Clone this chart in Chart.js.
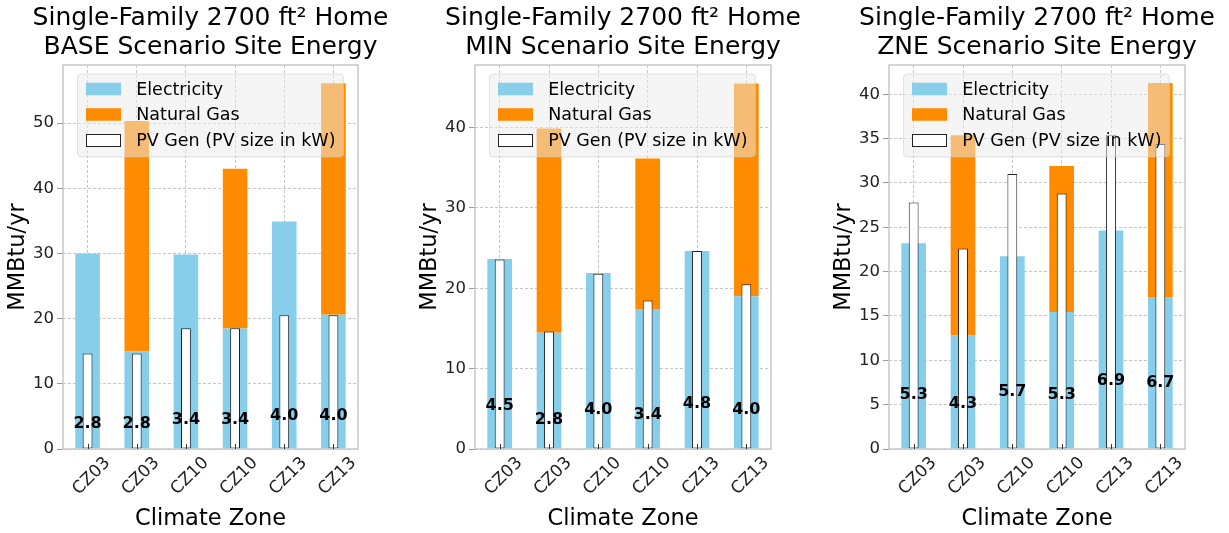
<!DOCTYPE html>
<html>
<head>
<meta charset="utf-8">
<script src="https://cdn.jsdelivr.net/npm/chart.js@4.4.0/dist/chart.umd.min.js"></script>
<style>
  html, body { margin: 0; padding: 0; background: #ffffff; }
  #wrap { position: relative; width: 1229px; height: 533px; overflow: hidden; background: #ffffff; }
  #wrap canvas { position: absolute; top: 0; }
</style>
</head>
<body>
<div id="wrap">
  <canvas id="c0" width="410" height="533" style="left:0px"></canvas>
  <canvas id="c1" width="410" height="533" style="left:410px"></canvas>
  <canvas id="c2" width="409" height="533" style="left:820px"></canvas>
</div>
<script>
// Categories and labels
const zones = ['CZ03', 'CZ03', 'CZ10', 'CZ10', 'CZ13', 'CZ13'];
const seriesNames = ['Electricity', 'Natural Gas', 'PV Gen (PV size in kW)'];
const titleLine1 = 'Single-Family 2700 ft\u00B2 Home';
const scenarioTitles = ['BASE Scenario Site Energy', 'MIN Scenario Site Energy', 'ZNE Scenario Site Energy'];
const xAxisTitle = 'Climate Zone';
const yAxisTitle = 'MMBtu/yr';

// BASE scenario (MMBtu/yr)
const baseElectricity = [30.0, 14.95, 29.85, 18.48, 34.9, 20.6];
const baseGas = [0, 35.35, 0, 24.52, 0, 35.5];
const basePV = [14.64, 14.64, 18.54, 18.54, 20.53, 20.53];
const basePVkW = [2.8, 2.8, 3.4, 3.4, 4.0, 4.0];

// MIN scenario (MMBtu/yr)
const minElectricity = [23.65, 14.48, 21.9, 17.43, 24.65, 19.0];
const minGas = [0, 25.42, 0, 18.72, 0, 26.5];
const minPV = [23.6, 14.64, 21.83, 18.47, 24.65, 20.5];
const minPVkW = [4.5, 2.8, 4.0, 3.4, 4.8, 4.0];

// ZNE scenario (MMBtu/yr)
const zneElectricity = [23.2, 12.8, 21.73, 15.44, 24.63, 17.13];
const zneGas = [0, 22.57, 0, 16.46, 0, 24.15];
const znePV = [27.8, 22.6, 31.0, 28.8, 35.43, 34.38];
const znePVkW = [5.3, 4.3, 5.7, 5.3, 6.9, 6.7];

// Y axis ranges and tick steps
const yMaxes = [58.9, 47.8, 43.3];
const yTickSteps = [10, 10, 5];

const FONT = 'DejaVu Sans';
const ELEC_COLOR = '#87CEEB';
const GAS_COLOR = '#FF8C00';
const PV_EDGE = '#222222';
const GRID_COLOR = '#b8b8b8';

// Panel layout in canvas pixels
const panels = [
  { canvas: 'c0', elec: baseElectricity, gas: baseGas, pv: basePV, kw: basePVkW, title: scenarioTitles[0], yMax: yMaxes[0], step: yTickSteps[0], left: 63, padRight: 52, yTitleX: 18 },
  { canvas: 'c1', elec: minElectricity, gas: minGas, pv: minPV, kw: minPVkW, title: scenarioTitles[1], yMax: yMaxes[1], step: yTickSteps[1], left: 65, padRight: 49, yTitleX: 20 },
  { canvas: 'c2', elec: zneElectricity, gas: zneGas, pv: znePV, kw: znePVkW, title: scenarioTitles[2], yMax: yMaxes[2], step: yTickSteps[2], left: 69, padRight: 44, yTitleX: 24 }
];

function roundedRect(ctx, x, y, w, h, r) {
  ctx.beginPath();
  ctx.moveTo(x + r, y);
  ctx.lineTo(x + w - r, y);
  ctx.quadraticCurveTo(x + w, y, x + w, y + r);
  ctx.lineTo(x + w, y + h - r);
  ctx.quadraticCurveTo(x + w, y + h, x + w - r, y + h);
  ctx.lineTo(x + r, y + h);
  ctx.quadraticCurveTo(x, y + h, x, y + h - r);
  ctx.lineTo(x, y + r);
  ctx.quadraticCurveTo(x, y, x + r, y);
  ctx.closePath();
}

// Frame, inward x ticks, PV size labels, legend and two-line title
const panelDecor = {
  id: 'panelDecor',
  afterDraw(chart, args, opts) {
    const ctx = chart.ctx;
    const a = chart.chartArea;
    const xs = chart.scales.x, ys = chart.scales.y;
    ctx.save();

    // axes frame
    ctx.strokeStyle = '#c8c8c8';
    ctx.lineWidth = 1.5;
    ctx.strokeRect(a.left, a.top, a.right - a.left, a.bottom - a.top);

    // inward x tick marks
    ctx.strokeStyle = '#333333';
    ctx.lineWidth = 1;
    zones.forEach((z, i) => {
      const px = Math.round(xs.getPixelForValue(i)) + 0.5;
      ctx.beginPath();
      ctx.moveTo(px, a.bottom);
      ctx.lineTo(px, a.bottom - 5);
      ctx.stroke();
    });

    // PV system size labels
    ctx.font = 'bold 16px "' + FONT + '"';
    ctx.fillStyle = '#000000';
    ctx.textAlign = 'center';
    ctx.textBaseline = 'alphabetic';
    opts.kw.forEach((v, i) => {
      ctx.fillText(v.toFixed(1), xs.getPixelForValue(i), ys.getPixelForValue(v) - 2.5);
    });

    // legend
    const bx = a.left + 14.5, by = a.top + 9, bw = 266, bh = 83;
    roundedRect(ctx, bx, by, bw, bh, 4);
    ctx.fillStyle = 'rgba(235,235,235,0.5)';
    ctx.fill();
    ctx.strokeStyle = 'rgba(200,200,200,0.5)';
    ctx.lineWidth = 1;
    ctx.stroke();
    const swatch = [ELEC_COLOR, GAS_COLOR, '#ffffff'];
    ctx.font = '17.5px "' + FONT + '"';
    ctx.textAlign = 'left';
    ctx.textBaseline = 'middle';
    seriesNames.forEach((name, i) => {
      const cy = by + 15 + i * 25.5;
      ctx.fillStyle = swatch[i];
      ctx.fillRect(bx + 8.5, cy - 6.25, 35, 12.5);
      if (i === 2) {
        ctx.strokeStyle = PV_EDGE;
        ctx.lineWidth = 1;
        ctx.strokeRect(bx + 9, Math.round(cy - 6.25) + 0.5, 34, 12);
      }
      ctx.fillStyle = '#000000';
      ctx.fillText(name, bx + 58.7, cy + 1);
    });

    // title
    const cx = (a.left + a.right) / 2;
    ctx.font = '25px "' + FONT + '"';
    ctx.textAlign = 'center';
    ctx.textBaseline = 'middle';
    ctx.fillStyle = '#000000';
    ctx.fillText(titleLine1, cx, 18.5);
    ctx.fillText(opts.title, cx, 47);

    ctx.restore();
  }
};

panels.forEach(p => {
  const ctx = document.getElementById(p.canvas).getContext('2d');
  new Chart(ctx, {
    type: 'bar',
    data: {
      labels: zones,
      datasets: [
        { label: seriesNames[2], data: p.pv, backgroundColor: '#ffffff', borderColor: PV_EDGE, borderWidth: 1,
          borderSkipped: false, stack: 'pv', grouped: false, barPercentage: 0.2, categoryPercentage: 1, order: 0 },
        { label: seriesNames[0], data: p.elec, backgroundColor: ELEC_COLOR, borderWidth: 0,
          stack: 'energy', grouped: false, barPercentage: 0.5, categoryPercentage: 1, order: 1 },
        { label: seriesNames[1], data: p.gas, backgroundColor: GAS_COLOR, borderWidth: 0,
          stack: 'energy', grouped: false, barPercentage: 0.5, categoryPercentage: 1, order: 2 }
      ]
    },
    plugins: [panelDecor],
    options: {
      responsive: false,
      animation: false,
      devicePixelRatio: 1,
      layout: { padding: { left: 0, right: p.padRight, top: 65, bottom: 0 } },
      plugins: {
        legend: { display: false },
        tooltip: { enabled: false },
        title: { display: false },
        panelDecor: { kw: p.kw, title: p.title }
      },
      scales: {
        x: {
          type: 'category',
          offset: true,
          z: 1,
          grid: { offset: false, color: GRID_COLOR, lineWidth: 0.8, drawTicks: false },
          border: { display: false, dash: [3, 2] },
          ticks: {
            autoSkip: false, minRotation: 45, maxRotation: 45, labelOffset: 20, padding: 4,
            color: '#222222', font: { family: FONT, size: 17 }
          },
          title: { display: true, text: xAxisTitle, color: '#000000', font: { family: FONT, size: 22.5 }, padding: { top: 0, bottom: 0 } },
          afterFit(s) { s.height = 84; }
        },
        y: {
          stacked: true,
          min: 0,
          max: p.yMax,
          z: 1,
          grid: { color: GRID_COLOR, lineWidth: 0.8, tickLength: 6, tickColor: '#999999', tickWidth: 1 },
          border: { display: false, dash: [3, 2] },
          ticks: { stepSize: p.step, includeBounds: false, padding: 3, color: '#222222', font: { family: FONT, size: 16.5 } },
          title: { display: true, text: yAxisTitle, color: '#000000', font: { family: FONT, size: 22.5 }, padding: { top: p.yTitleX - 13.5, bottom: 0 } },
          afterFit(s) { s.width = p.left; }
        }
      }
    }
  });
});
</script>
</body>
</html>
